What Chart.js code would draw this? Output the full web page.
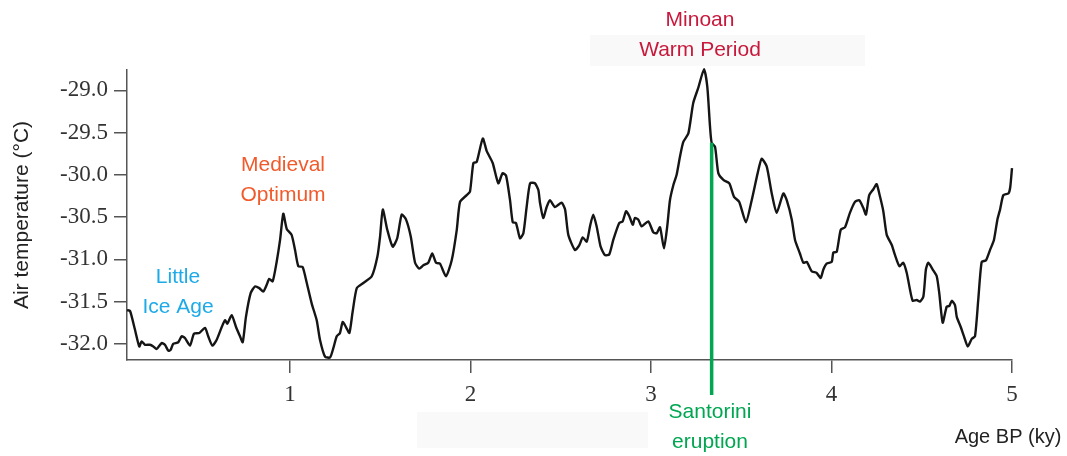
<!DOCTYPE html>
<html>
<head>
<meta charset="utf-8">
<script src="https://cdn.jsdelivr.net/npm/chart.js@4.4.1/dist/chart.umd.min.js"></script>
<style>
  html, body { margin: 0; padding: 0; background: #ffffff; }
  #wrap { width: 1067px; height: 456px; position: relative; }
</style>
</head>
<body>
<div id="wrap"><canvas id="chart" width="1067" height="456"></canvas></div>
<script>
// Age before present (thousand years)
const ageKy = [
  0.097,0.114,0.141,0.165,0.178,0.197,0.224,0.243,0.261,0.289,
  0.307,0.326,0.339,0.353,0.381,0.400,0.418,0.446,0.468,0.498,
  0.529,0.547,0.570,0.594,0.622,0.640,0.653,0.677,0.701,0.723,
  0.738,0.756,0.782,0.806,0.830,0.852,0.871,0.885,0.904,0.926,
  0.945,0.963,0.982,1.009,1.028,1.046,1.070,1.093,1.120,1.148,
  1.166,1.194,1.222,1.240,1.259,1.277,1.292,1.310,1.329,1.347,
  1.370,1.406,1.453,1.484,1.499,1.514,1.539,1.569,1.594,1.619,
  1.643,1.669,1.693,1.716,1.739,1.766,1.788,1.809,1.831,1.864,
  1.896,1.924,1.942,1.979,1.997,2.016,2.034,2.068,2.090,2.123,
  2.154,2.178,2.197,2.219,2.234,2.252,2.274,2.293,2.311,2.330,
  2.357,2.376,2.385,2.403,2.422,2.440,2.468,2.505,2.524,2.542,
  2.579,2.603,2.622,2.644,2.662,2.680,2.699,2.721,2.745,2.769,
  2.791,2.824,2.843,2.862,2.880,2.899,2.911,2.930,2.948,2.985,
  3.013,3.032,3.050,3.072,3.090,3.105,3.124,3.142,3.161,3.179,
  3.207,3.234,3.262,3.294,3.312,3.327,3.336,3.355,3.373,3.401,
  3.434,3.460,3.489,3.526,3.558,3.591,3.613,3.641,3.669,3.696,
  3.733,3.752,3.780,3.798,3.825,3.844,3.863,3.890,3.918,3.940,
  3.955,3.973,4.001,4.010,4.029,4.051,4.075,4.102,4.130,4.154,
  4.176,4.191,4.209,4.232,4.250,4.269,4.287,4.306,4.334,4.352,
  4.376,4.398,4.417,4.435,4.450,4.472,4.490,4.509,4.523,4.536,
  4.561,4.583,4.597,4.616,4.638,4.653,4.666,4.684,4.694,4.716,
  4.734,4.755,4.777,4.795,4.813,4.832,4.856,4.878,4.900,4.919,
  4.934,4.952,4.980,4.990,5.000
];

// Reconstructed air temperature (°C)
const airTempC = [
  -31.60,-31.61,-31.83,-32.03,-31.97,-32.01,-32.01,-32.03,-32.06,-31.99,
  -32.01,-32.08,-32.07,-32.00,-31.98,-31.91,-31.93,-32.02,-31.88,-31.87,
  -31.81,-31.91,-32.02,-31.95,-31.80,-31.72,-31.76,-31.66,-31.80,-31.91,
  -31.98,-31.68,-31.40,-31.32,-31.34,-31.38,-31.30,-31.23,-31.26,-31.03,
  -30.77,-30.46,-30.64,-30.71,-30.89,-31.08,-31.09,-31.28,-31.52,-31.72,
  -31.95,-32.15,-32.16,-32.05,-31.91,-31.87,-31.74,-31.80,-31.87,-31.62,
  -31.34,-31.28,-31.20,-30.97,-30.73,-30.41,-30.65,-30.85,-30.75,-30.47,
  -30.53,-30.73,-31.04,-31.11,-31.07,-31.04,-30.93,-31.04,-31.05,-31.20,
  -31.01,-30.65,-30.32,-30.24,-30.20,-29.86,-29.85,-29.57,-29.72,-29.86,
  -30.10,-29.98,-30.01,-30.30,-30.56,-30.57,-30.75,-30.69,-30.38,-30.10,
  -30.10,-30.18,-30.33,-30.51,-30.38,-30.30,-30.38,-30.33,-30.41,-30.71,
  -30.89,-30.83,-30.74,-30.79,-30.61,-30.47,-30.61,-30.85,-30.95,-30.94,
  -30.77,-30.57,-30.55,-30.43,-30.49,-30.59,-30.51,-30.53,-30.61,-30.55,
  -30.68,-30.69,-30.62,-30.87,-30.61,-30.30,-30.12,-30.00,-29.78,-29.61,
  -29.51,-29.15,-28.97,-28.75,-28.96,-29.43,-29.62,-29.67,-29.98,-30.06,
  -30.10,-30.26,-30.32,-30.56,-30.30,-29.98,-29.81,-29.90,-30.22,-30.45,
  -30.22,-30.30,-30.53,-30.77,-30.93,-31.04,-31.03,-31.14,-31.16,-31.22,
  -31.12,-31.05,-31.03,-30.92,-30.91,-30.65,-30.62,-30.45,-30.32,-30.30,
  -30.39,-30.47,-30.24,-30.17,-30.11,-30.26,-30.43,-30.71,-30.83,-30.95,
  -31.08,-31.04,-31.16,-31.36,-31.49,-31.48,-31.50,-31.44,-31.12,-31.04,
  -31.12,-31.20,-31.40,-31.75,-31.56,-31.55,-31.49,-31.54,-31.68,-31.80,
  -31.91,-32.03,-31.94,-31.91,-31.48,-31.03,-31.01,-30.89,-30.77,-30.53,
  -30.41,-30.24,-30.22,-30.15,-29.92
];

const xTickValues = [1, 2, 3, 4, 5];
const yTickValues = [-32.0, -31.5, -31.0, -30.5, -30.0, -29.5, -29.0];

// Santorini eruption marker
const eruptionAgeKy = 3.336;
const eruptionTempC = -29.62;

const SANS = '"Liberation Sans", Arial, sans-serif';
const SERIF = '"Liberation Serif", "Times New Roman", serif';

// Period labels (pixel layout on the canvas)
const periodLabels = [
  { lines: ['Minoan', 'Warm Period'], x: 700, y: 20, gap: 30, color: '#c8193c' },
  { lines: ['Medieval', 'Optimum'],   x: 283, y: 165, gap: 30, color: '#f15a2b' },
  { lines: ['Little', 'Ice Age'],     x: 178, y: 277, gap: 30, color: '#1eaae7' },
  { lines: ['Santorini', 'eruption'], x: 710, y: 412, gap: 30, color: '#00a651' }
];

const decorPlugin = {
  id: 'decor',
  beforeDraw(chart) {
    const ctx = chart.ctx;
    ctx.save();
    ctx.fillStyle = '#ffffff';
    ctx.fillRect(0, 0, chart.width, chart.height);
    // faint panels behind the labels
    ctx.fillStyle = '#f9f9f9';
    ctx.fillRect(590, 35, 275, 31);
    ctx.fillRect(417, 412, 231, 36);
    ctx.restore();
  },
  afterDatasetsDraw(chart) {
    const ctx = chart.ctx;
    const xs = chart.scales.x, ys = chart.scales.y;
    ctx.save();
    // eruption line from the curve down below the axis
    const ex = xs.getPixelForValue(eruptionAgeKy);
    const ey = ys.getPixelForValue(eruptionTempC);
    ctx.strokeStyle = '#00a651';
    ctx.lineWidth = 3.5;
    ctx.beginPath();
    ctx.moveTo(ex, ey);
    ctx.lineTo(ex, chart.chartArea.bottom + 35);
    ctx.stroke();
    ctx.restore();
  },
  afterDraw(chart) {
    const ctx = chart.ctx;
    ctx.save();
    ctx.textAlign = 'center';
    ctx.textBaseline = 'middle';
    ctx.font = '21px ' + SANS;
    periodLabels.forEach(l => {
      ctx.fillStyle = l.color;
      l.lines.forEach((t, i) => ctx.fillText(t, l.x, l.y + i * l.gap));
    });
    ctx.fillStyle = '#222222';
    ctx.font = '20px ' + SANS;
    ctx.fillText('Age BP (ky)', 1008, 437);
    ctx.restore();
  }
};

const tickGrid = {
  display: true,
  drawOnChartArea: false,
  drawTicks: true,
  tickLength: 13,
  color: '#555555',
  lineWidth: 1.5
};

new Chart(document.getElementById('chart'), {
  type: 'line',
  data: {
    datasets: [{
      data: ageKy.map((a, i) => ({ x: a, y: airTempC[i] })),
      borderColor: '#151515',
      borderWidth: 2.4,
      pointRadius: 0,
      tension: 0.2,
      fill: false,
      clip: 4
    }]
  },
  options: {
    responsive: false,
    animation: false,
    devicePixelRatio: 1,
    layout: { padding: { left: 0, right: 55, top: 70, bottom: 0 } },
    plugins: { legend: { display: false }, tooltip: { enabled: false } },
    scales: {
      x: {
        type: 'linear',
        min: 0.097,
        max: 5.0,
        afterBuildTicks: s => { s.ticks = xTickValues.map(v => ({ value: v })); },
        afterFit: s => { s.height = 96; },
        grid: tickGrid,
        border: { display: true, color: '#555555', width: 1.5 },
        ticks: {
          font: { family: SERIF, size: 23 },
          color: '#333333',
          padding: 8,
          maxRotation: 0,
          autoSkip: false,
          callback: v => String(v)
        }
      },
      y: {
        type: 'linear',
        min: -32.19,
        max: -28.76,
        afterBuildTicks: s => { s.ticks = yTickValues.map(v => ({ value: v })); },
        afterFit: s => { s.width = 127; },
        grid: tickGrid,
        border: { display: true, color: '#555555', width: 1.5 },
        ticks: {
          font: { family: SERIF, size: 23 },
          color: '#333333',
          padding: 6,
          autoSkip: false,
          callback: v => v.toFixed(1)
        },
        title: {
          display: true,
          text: 'Air temperature (°C)',
          font: { family: SANS, size: 21 },
          color: '#222222',
          padding: { top: 10, bottom: 0 }
        }
      }
    }
  },
  plugins: [decorPlugin]
});
</script>
</body>
</html>
